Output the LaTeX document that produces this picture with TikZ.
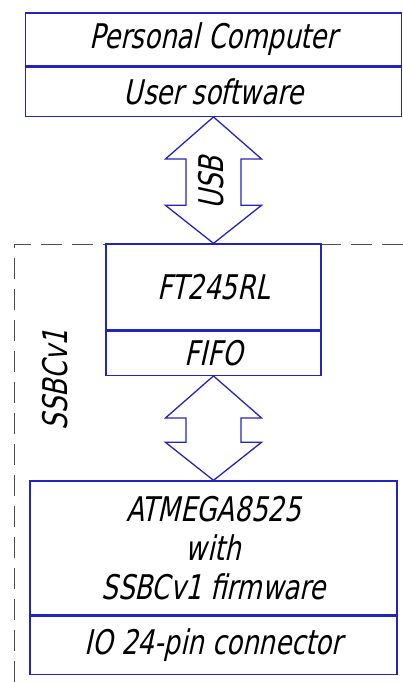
\documentclass[tikz,border=0pt]{standalone}
\usepackage{fontspec}
\setmainfont{DejaVu Sans Condensed}[FakeStretch=0.85,FakeSlant=0.22]
\usetikzlibrary{calc}
\definecolor{linkblue}{RGB}{35,35,190}
\tikzset{
  part/.style={draw=linkblue, line width=1.3pt, inner sep=0pt, font=\fontsize{34}{39}\selectfont},
  bus/.style={draw=linkblue, line width=1.3pt, line join=miter},
  border/.style={draw=black!70, line width=0.9pt, dash pattern=on 21pt off 10pt}
}
\newcommand\busarrow[2]{%
  \draw[bus] (#1.south) -- ++(48,-42) -- ++(-20.5,0) -- ($(#2.north)+(27.5,38)$) -- ++(20.5,0)
    -- (#2.north) -- ++(-48,38) -- ++(20.5,0) -- ($(#1.south)+(-27.5,-42)$) -- ++(-20.5,0) -- cycle;}
\begin{document}
\begin{tikzpicture}[x=1pt,y=1pt]
\useasboundingbox (0,0) rectangle (403,682);
\draw[border] (403,438) -- (14,438) -- (14,0);
\node[part, minimum width=376, minimum height=53] (pc) at (213.5,642.5) {Personal Computer};
\node[part, minimum width=376, minimum height=49, anchor=north] (soft) at (pc.south) {User software};
\node[part, minimum width=215, minimum height=86] (ft) at (213.5,395) {FT245RL};
\node[part, minimum width=215, minimum height=44, anchor=north] (fifo) at (ft.south) {FIFO};
\node[part, minimum width=367, minimum height=134, align=center] (mcu) at (213.5,134) {ATMEGA8525\\with\\SSBCv1 firmware};
\node[part, minimum width=367, minimum height=58, anchor=north] (io) at (mcu.south) {IO 24-pin connector};
\busarrow{soft}{ft}
\busarrow{fifo}{mcu}
\node[font=\fontsize{34}{39}\selectfont, rotate=90] (usb) at (211,499) {USB};
\node[font=\fontsize{34}{39}\selectfont, rotate=90] (board) at (55,302) {SSBCv1};
\end{tikzpicture}
\end{document}
